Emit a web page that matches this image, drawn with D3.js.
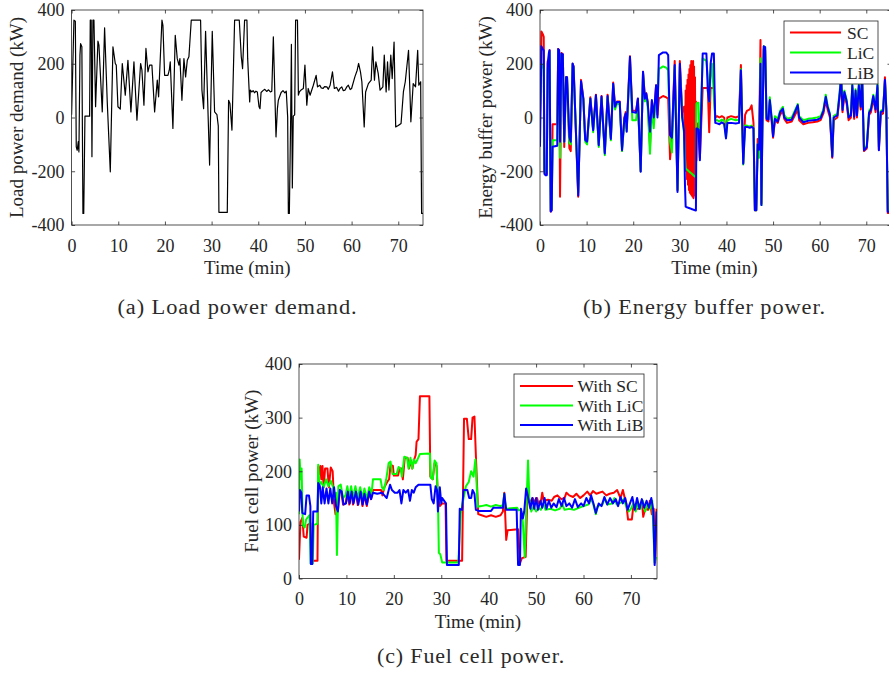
<!DOCTYPE html>
<html>
<head>
<meta charset="utf-8">
<script src="https://cdn.jsdelivr.net/npm/d3@7"></script>
<style>
  html, body { margin: 0; padding: 0; background: #fff; overflow: hidden; }
  svg { display: block; }
  text { font-family: "Liberation Serif", "Times New Roman", serif; fill: #262626; }
  .caption { font-family: "Liberation Serif", serif; fill: #2a2a2a; letter-spacing: 0.8px; }
</style>
</head>
<body>
<svg id="fig" width="889" height="679"></svg>
<script>
// ---------- (a) load power demand, kW over time in minutes ----------
const loadTime = [0,0.5,0.8,1.0,1.2,1.43,1.57,1.79,1.93,2.2,2.43,2.6,2.86,3.86,4.0,4.2,4.36,4.57,4.79,5.14,5.64,5.86,6.57,7.07,7.64,8.29,8.86,9.36,9.57,9.93,10.43,10.86,11.5,12.07,12.71,13.36,14.0,14.79,15.07,15.5,15.93,16.36,16.71,17.21,17.79,18.36,18.64,19.36,19.57,19.93,20.64,20.93,21.14,21.71,22.21,22.64,23.0,23.21,23.64,24.07,24.43,24.79,25.14,25.64,27.64,27.93,28.29,28.71,29.57,30.14,30.64,31.14,31.43,31.57,33.36,33.64,33.93,34.36,34.93,35.93,36.36,36.64,37.07,37.57,37.73,38.16,38.3,38.6,38.9,39.2,39.5,39.8,40.16,40.37,40.6,41.0,41.4,41.8,42.2,42.6,42.9,43.23,43.8,44.1,44.3,44.9,45.3,45.7,46.0,46.3,46.45,46.66,46.95,47.1,47.3,47.5,47.8,48.0,48.4,48.6,48.8,49.16,49.66,50.0,50.4,50.7,51.1,51.8,52.4,52.7,53.2,53.5,53.9,54.2,54.7,55.0,55.4,55.9,56.3,56.8,57.2,57.5,57.9,58.2,58.6,59.0,59.3,59.7,60.0,60.7,61.2,61.5,61.9,62.2,62.7,63.0,63.6,64.2,64.5,64.9,65.2,65.7,66.1,66.7,67.0,67.4,67.7,68.0,68.4,68.7,69.1,69.45,70.0,70.6,71.1,71.5,72.2,72.5,72.7,73.2,73.7,74.16,74.4,74.8,75.0,75.3];
const loadKW   = [10,362,358,-109,-122,-90,-128,232,275,263,-357,-357,5,5,362,362,-146,362,362,40,284,269,21,334,58,-202,263,201,195,40,31,201,83,213,21,207,-10,201,176,46,257,170,195,195,21,139,77,362,343,157,157,176,207,-41,306,219,195,219,64,219,151,213,226,362,362,102,33,321,-177,321,21,11,-31,-353,-353,64,52,-47,362,362,226,182,362,362,219,58,102,95,100,92,98,95,40,33,93,100,105,97,103,95,98,300,-72,33,64,93,100,92,98,2,-357,-357,5,272,-262,5,10,362,362,83,95,102,108,195,46,108,83,120,157,114,120,110,108,115,114,105,120,170,108,112,98,108,114,100,102,115,120,104,108,151,176,201,170,133,-35,95,126,139,263,139,207,164,102,114,232,95,207,102,232,145,281,-35,-30,-22,95,133,250,95,-16,126,114,250,120,133,-357,-357];

// ---------- (b) energy buffer power, kW, shared time grid ----------
const bufTime = [0,0.3,0.6,0.8,0.95,1.2,1.45,1.65,1.9,2.05,2.3,2.5,2.7,3.7,3.9,4.1,4.3,4.6,4.9,5.2,5.6,5.8,6.3,6.6,7.0,7.2,8.2,8.8,9.3,9.7,10.1,10.8,11.4,12.0,12.6,13.2,13.9,14.5,15.2,15.7,16.1,16.5,17.1,17.6,18.1,18.4,18.6,19.3,19.8,20.6,21.0,21.6,22.1,22.5,22.8,23.1,23.6,24.0,24.4,24.9,25.2,25.5,26.4,27.1,27.5,27.9,28.3,28.9,29.5,30.0,30.5,30.9,31.1,
  31.25,31.35,31.45,31.55,31.65,31.75,31.85,31.95,32.05,32.15,32.25,32.35,32.45,32.55,32.65,32.75,32.85,32.95,33.05,33.15,33.25,33.35,33.45,33.55,
  33.7,34.0,34.3,34.9,35.7,36.0,36.3,36.6,36.9,37.3,37.6,38.0,38.5,39.0,39.5,39.9,40.2,41.0,42.0,42.7,43.1,43.6,44.0,44.4,45.0,45.4,45.8,46.1,46.4,46.7,47.0,47.3,47.5,47.7,48.0,48.3,48.6,49.0,49.3,49.7,50.0,50.4,51.0,51.5,52.1,52.4,53.0,54.0,55.3,55.6,56.5,57.5,58.5,59.5,60.2,60.8,61.3,61.7,62.2,62.7,63.0,63.8,64.3,64.6,64.9,65.3,65.8,66.2,66.7,67.0,67.4,67.7,68.0,68.4,68.8,69.1,69.5,70.1,70.6,71.0,71.5,72.0,72.4,72.7,73.1,73.6,74.0,74.3,74.6,75.3];
const bufSC  = [-20,320,310,300,-200,-210,-210,210,215,250,-350,-345,-25,-25,255,250,-295,240,235,-110,150,150,-115,-125,200,190,-295,140,70,-80,-90,75,-45,85,-100,80,-130,85,-75,130,40,60,60,-115,0,20,-40,228,25,25,70,-200,170,75,90,60,-110,60,-10,120,10,70,80,75,70,-155,-70,210,-270,210,20,40,-90,
  100,-200,120,-230,140,-250,160,-270,180,-280,195,-285,210,-290,205,-295,210,-300,190,-290,150,-250,60,-160,
  -30,-20,-150,110,110,110,-55,110,110,110,0,5,0,5,0,-60,0,5,0,5,195,-170,10,25,30,45,-20,-345,-345,-80,-100,288,-320,-20,255,250,-10,-15,60,-15,-75,-10,-20,10,25,-5,-20,-15,30,-10,-25,-20,-18,-15,-10,15,65,30,0,-150,-10,0,80,140,20,85,50,-10,0,110,-5,90,0,110,30,150,-125,-115,10,20,70,20,110,-120,10,15,150,20,-355,-355];
const bufLiC = [20,200,190,180,-190,-205,-200,185,190,245,-345,-340,-85,-85,250,245,-150,235,230,-90,148,148,-95,-100,198,185,-280,130,65,-90,-100,70,-55,80,-110,72,-140,75,-85,122,30,50,50,-125,-10,10,-50,215,-10,-10,55,-200,165,60,80,40,-135,40,-40,90,50,180,190,185,175,-90,-130,190,-270,190,10,-60,-150,
  -190,-191,-193,-194,-196,-197,-199,-200,-202,-203,-205,-206,-208,-209,-211,-212,-214,-215,-217,-218,-220,-221,-222,50,
  55,55,-100,220,210,150,60,150,200,80,-10,-10,-15,-8,-12,-75,-10,-5,-10,-8,180,-175,-30,-30,-35,-30,-40,-345,-345,-100,-150,220,-326,-50,265,260,0,-5,75,0,-65,5,-5,25,40,10,-5,0,50,5,-10,-5,-3,0,5,30,85,45,15,-140,5,15,100,155,35,100,65,5,15,125,10,105,15,125,45,165,-115,-105,25,35,85,35,125,-110,25,30,135,35,-345,-345];
const bufLiB = [-109,265,255,250,-210,-215,-215,200,240,250,-350,-345,-109,-105,255,250,-90,238,235,-90,151,150,-72,-90,201,190,-290,135,70,-84,-90,71,-47,83,-103,78,-134,80,-80,126,40,58,58,-122,-4,15,-53,226,20,18,71,-202,170,70,89,55,-53,65,0,120,0,232,242,242,232,-66,-75,195,-277,200,0,-50,-250,
  -332,-333,-333,-334,-335,-335,-336,-337,-337,-338,-339,-339,-340,-341,-341,-342,-343,-343,-344,-345,-345,-346,-346,-41,
  -41,-45,-159,238,238,100,60,200,238,238,-20,-22,-25,-18,-24,-78,-20,-20,-22,-20,176,-172,-35,-35,-38,-35,-40,-345,-345,-100,-120,200,-326,-60,265,262,-5,-8,65,-5,-70,-5,-15,20,33,0,-10,-8,46,0,-18,-12,-10,-8,-2,25,77,40,10,-146,0,8,90,150,28,95,60,0,8,120,3,100,8,120,40,160,-122,-110,18,30,80,30,120,-122,20,25,140,30,-351,-351];

// ---------- (c) fuel cell power, kW ----------
const fcSCTime = [0,0.3,0.7,1.0,1.6,1.8,2.4,2.6,3.9,4.05,4.3,4.5,4.7,4.95,5.2,5.5,6.0,6.3,6.7,7.1,7.4,7.7,8.2,8.5,8.9,9.3,9.9,10.2,10.6,11.0,11.4,11.9,12.4,12.9,13.4,13.8,14.3,14.8,15.2,15.6,17.3,17.6,18.0,18.6,19.0,19.3,19.8,20.0,20.9,21.2,21.6,21.9,22.3,22.9,23.2,23.6,23.9,24.3,24.6,24.8,25.2,25.5,27.5,27.7,28.2,28.6,29.0,29.3,29.7,30.2,30.9,31.1,34.4,34.8,35.4,35.8,36.3,36.6,37.0,37.3,37.8,38.5,39.5,40.5,41.5,42.5,43.0,43.3,43.7,44.0,46.2,46.6,47.0,47.8,48.2,48.6,49.3,49.6,50.2,50.5,51.0,51.3,51.6,52.5,53.3,53.8,54.5,55.3,56.0,56.4,57.0,57.8,58.5,59.3,60.0,60.8,61.4,62.0,62.7,63.3,64.0,64.8,65.5,66.4,67.1,67.8,68.3,68.7,69.0,69.4,70.2,70.5,71.0,71.8,72.3,72.6,73.0,73.6,74.0,74.4,74.8,75.1,75.4];
const fcSC     = [35,105,113,78,76,100,103,33,33,208,195,210,185,210,170,205,205,170,207,200,140,120,125,165,162,138,140,162,138,165,138,165,137,162,135,155,135,160,148,165,165,155,170,180,185,212,210,192,192,205,205,185,225,225,205,220,205,222,230,255,260,340,340,190,185,215,210,150,135,140,140,33,33,298,298,260,260,300,302,230,120,118,115,118,115,118,125,160,72,90,92,28,38,40,165,142,150,143,150,140,142,160,145,147,145,152,155,148,150,160,155,152,158,150,155,162,155,163,158,160,162,155,158,160,165,150,165,150,140,110,110,135,130,130,145,115,130,128,145,120,130,30,130];
const fcLiCTime = [0,0.15,0.35,0.55,0.8,1.2,1.5,2.2,2.45,2.9,3.1,3.9,4.05,4.3,4.7,5.2,5.7,6.2,6.7,7.2,7.5,7.8,8.0,8.3,8.8,9.3,9.8,10.2,10.6,11.0,11.4,11.9,12.4,12.9,13.4,13.8,14.3,14.8,15.3,15.6,17.2,17.5,17.9,18.4,18.9,19.3,19.7,20.6,21.0,21.4,21.7,22.2,22.8,23.1,23.5,23.9,24.2,24.6,25.0,25.5,27.6,27.8,28.2,28.6,29.0,29.3,29.5,29.8,30.2,33.6,34.1,34.6,35.2,35.8,36.3,36.8,37.2,37.7,38.5,39.5,40.5,41.5,42.5,43.0,43.3,43.6,46.0,46.3,46.8,47.2,47.6,47.9,48.3,48.6,49.0,49.5,50.0,50.5,51.0,51.5,52.0,53.0,54.0,55.0,55.5,56.0,57.0,58.0,59.0,60.0,61.0,61.5,62.0,62.6,63.0,64.0,64.5,65.0,66.0,66.5,67.0,68.0,68.5,69.0,69.5,70.0,70.5,71.0,71.5,72.0,72.5,73.0,73.5,74.0,74.5,75.0,75.3];
const fcLiC     = [120,222,185,205,100,95,110,118,28,28,100,102,212,175,180,170,185,172,182,170,150,160,44,172,175,150,155,172,150,172,150,172,150,170,150,168,148,170,158,185,185,170,165,185,215,218,195,195,208,205,190,227,225,205,225,205,222,215,222,232,233,188,185,220,215,150,48,45,30,30,120,145,172,180,200,190,222,134,135,137,134,137,135,137,158,130,132,127,128,105,40,120,220,145,125,135,125,132,128,140,128,130,127,130,140,128,130,128,132,135,138,150,140,120,135,138,150,138,140,150,138,142,148,135,125,130,140,125,142,130,145,125,140,130,145,30,40];
const fcLiBTime = [0,0.2,0.5,0.7,1.3,1.6,2.1,2.4,2.5,2.8,3.0,3.9,4.05,4.4,4.7,5.0,5.4,5.8,6.2,6.6,7.0,7.4,7.8,8.2,8.6,9.0,9.4,9.9,10.3,10.7,11.1,11.5,12.0,12.5,13.0,13.4,13.8,14.3,14.8,15.2,15.6,16.5,17.5,18.0,18.5,19.2,19.6,20.2,20.8,21.2,21.6,22.0,22.5,23.0,23.4,23.8,24.2,24.6,25.2,27.7,28.0,28.4,28.8,29.1,29.3,29.7,30.0,30.2,31.0,31.2,33.7,33.9,34.4,34.7,35.5,35.9,36.3,36.6,37.0,37.3,38.0,40.5,41.0,43.0,43.3,43.7,45.9,46.2,46.6,46.8,47.2,47.5,47.9,48.4,48.8,49.2,49.6,50.0,50.4,50.9,51.3,51.8,52.2,52.7,53.2,53.7,54.3,54.8,55.4,55.9,56.4,57.0,57.6,58.2,58.8,59.5,60.0,60.6,61.2,61.6,62.1,62.6,63.2,63.8,64.4,65.0,65.6,66.2,66.8,67.3,67.8,68.3,68.8,69.3,69.8,70.3,70.8,71.3,71.8,72.3,72.8,73.3,73.8,74.3,74.7,75.0,75.4];
const fcLiB     = [125,165,160,122,120,155,155,135,27,27,125,125,178,172,140,170,140,168,140,168,140,170,135,125,165,162,138,140,162,140,162,140,162,138,162,138,158,138,162,148,160,158,160,155,150,175,165,160,160,165,140,165,160,165,145,165,160,170,175,175,148,140,172,165,125,170,140,150,140,25,25,130,128,165,165,150,150,165,158,128,126,126,132,132,158,128,128,25,25,130,112,125,168,148,130,150,130,150,128,145,132,150,130,145,132,140,133,148,135,150,135,140,132,148,133,140,135,150,140,155,140,122,140,135,152,138,150,140,148,135,152,140,150,128,140,152,128,150,130,148,132,145,132,150,128,25,125];

// ---------- tick values ----------
const timeTicks = [0, 10, 20, 30, 40, 50, 60, 70];
const bipolarTicks = [-400, -200, 0, 200, 400];
const fcTicks = [0, 100, 200, 300, 400];

const bufferNames = ["SC", "LiC", "LiB"];
const fcNames = ["With SC", "With LiC", "With LiB"];
const seriesColors = ["#ff0000", "#00ff00", "#0000ff"];

const svg = d3.select("#fig");
const axisColor = "#262626";

function drawPanel(o) {
  const x = d3.scaleLinear().domain([0, o.xMax]).range([o.left, o.right]);
  const y = d3.scaleLinear().domain(o.yDomain).range([o.bottom, o.top]);
  const g = svg.append("g");

  const clipId = "clip-" + o.id;
  svg.append("clipPath").attr("id", clipId)
    .append("rect").attr("x", o.left).attr("y", o.top)
    .attr("width", o.right - o.left).attr("height", o.bottom - o.top);

  const line = d3.line().x(d => x(d[0])).y(d => y(d[1]));
  const plot = g.append("g").attr("clip-path", `url(#${clipId})`);
  o.series.forEach(s => {
    plot.append("path")
      .datum(d3.zip(s.t, s.v))
      .attr("fill", "none")
      .attr("stroke", s.color)
      .attr("stroke-width", s.width)
      .attr("stroke-linejoin", "round")
      .attr("d", line);
  });

  const fmt = d => String(d);
  const styleAxis = sel => {
    sel.select(".domain").remove();
    sel.selectAll(".tick line").attr("stroke", axisColor).attr("stroke-width", 0.8);
    sel.selectAll("text").attr("font-size", 18).attr("fill", axisColor)
      .attr("font-family", '"Liberation Serif", serif');
  };
  g.append("g").attr("transform", `translate(0,${o.bottom})`)
    .call(d3.axisBottom(x).tickValues(timeTicks).tickFormat(fmt).tickSizeInner(-3.5).tickSizeOuter(0).tickPadding(14))
    .call(styleAxis);
  g.append("g").attr("transform", `translate(0,${o.top})`)
    .call(d3.axisTop(x).tickValues(timeTicks).tickFormat("").tickSizeInner(-3.5).tickSizeOuter(0))
    .call(styleAxis);
  g.append("g").attr("transform", `translate(${o.left},0)`)
    .call(d3.axisLeft(y).tickValues(o.yTicks).tickFormat(fmt).tickSizeInner(-3.5).tickSizeOuter(0).tickPadding(7))
    .call(styleAxis);
  g.append("g").attr("transform", `translate(${o.right},0)`)
    .call(d3.axisRight(y).tickValues(o.yTicks).tickFormat("").tickSizeInner(-3.5).tickSizeOuter(0))
    .call(styleAxis);

  g.append("rect")
    .attr("x", o.left).attr("y", o.top)
    .attr("width", o.right - o.left).attr("height", o.bottom - o.top)
    .attr("fill", "none").attr("stroke", axisColor).attr("stroke-width", 0.8);

  g.append("text")
    .attr("x", (o.left + Math.min(o.right, 889)) / 2)
    .attr("y", o.bottom + 49)
    .attr("text-anchor", "middle")
    .attr("font-size", 19)
    .text("Time (min)");

  g.append("text")
    .attr("transform", `translate(${o.yLabelX},${(o.top + o.bottom) / 2}) rotate(-90)`)
    .attr("text-anchor", "middle")
    .attr("dominant-baseline", "central")
    .attr("font-size", 19)
    .text(o.yLabel);

  if (o.legend) {
    const L = o.legend;
    g.append("rect")
      .attr("x", L.x).attr("y", L.y).attr("width", L.w).attr("height", L.h)
      .attr("fill", "#fff").attr("stroke", axisColor).attr("stroke-width", 0.8);
    L.names.forEach((name, i) => {
      const yy = L.y + L.first + i * L.step;
      g.append("line")
        .attr("x1", L.x + L.lineX0).attr("x2", L.x + L.lineX1)
        .attr("y1", yy).attr("y2", yy)
        .attr("stroke", seriesColors[i]).attr("stroke-width", 2);
      g.append("text")
        .attr("x", L.x + L.textX).attr("y", yy)
        .attr("dominant-baseline", "central")
        .attr("font-size", 17.5)
        .text(name);
    });
  }
  return { x, y };
}

// (a) load power demand
drawPanel({
  id: "a", left: 71.6, right: 423, top: 10, bottom: 225, xMax: 75.3,
  yDomain: [-400, 400], yTicks: bipolarTicks,
  yLabel: "Load power demand (kW)", yLabelX: 16,
  series: [{ t: loadTime, v: loadKW, color: "#000", width: 1.2 }]
});

// (b) energy buffer power
drawPanel({
  id: "b", left: 540, right: 891, top: 10, bottom: 225, xMax: 75.3,
  yDomain: [-400, 400], yTicks: bipolarTicks,
  yLabel: "Energy buffer power (kW)", yLabelX: 485,
  series: [
    { t: bufTime, v: bufSC, color: seriesColors[0], width: 2 },
    { t: bufTime, v: bufLiC, color: seriesColors[1], width: 2 },
    { t: bufTime, v: bufLiB, color: seriesColors[2], width: 2 }
  ],
  legend: { x: 784, y: 21, w: 94, h: 63, first: 11.5, step: 20, lineX0: 6, lineX1: 57, textX: 63, names: bufferNames }
});

// (c) fuel cell power
drawPanel({
  id: "c", left: 299, right: 657, top: 364, bottom: 578.5, xMax: 75.5,
  yDomain: [0, 400], yTicks: fcTicks,
  yLabel: "Fuel cell power (kW)", yLabelX: 251,
  series: [
    { t: fcSCTime, v: fcSC, color: seriesColors[0], width: 2 },
    { t: fcLiCTime, v: fcLiC, color: seriesColors[1], width: 2 },
    { t: fcLiBTime, v: fcLiB, color: seriesColors[2], width: 2 }
  ],
  legend: { x: 514, y: 374, w: 130, h: 63, first: 12, step: 19.5, lineX0: 6, lineX1: 59, textX: 63.5, names: fcNames }
});

// sub-figure captions, set in a wide roman face
const captions = [
  { x: 237.5, y: 314, w: 240, text: "(a) Load power demand." },
  { x: 704.5, y: 314, w: 243, text: "(b) Energy buffer power." },
  { x: 471, y: 663, w: 188, text: "(c) Fuel cell power." }
];
svg.selectAll("text.caption").data(captions).join("text")
  .attr("class", "caption")
  .attr("x", d => d.x - d.w / 2).attr("y", d => d.y)
  .attr("font-size", 20)
  .attr("textLength", d => d.w)
  .attr("lengthAdjust", "spacingAndGlyphs")
  .text(d => d.text);
</script>
</body>
</html>
